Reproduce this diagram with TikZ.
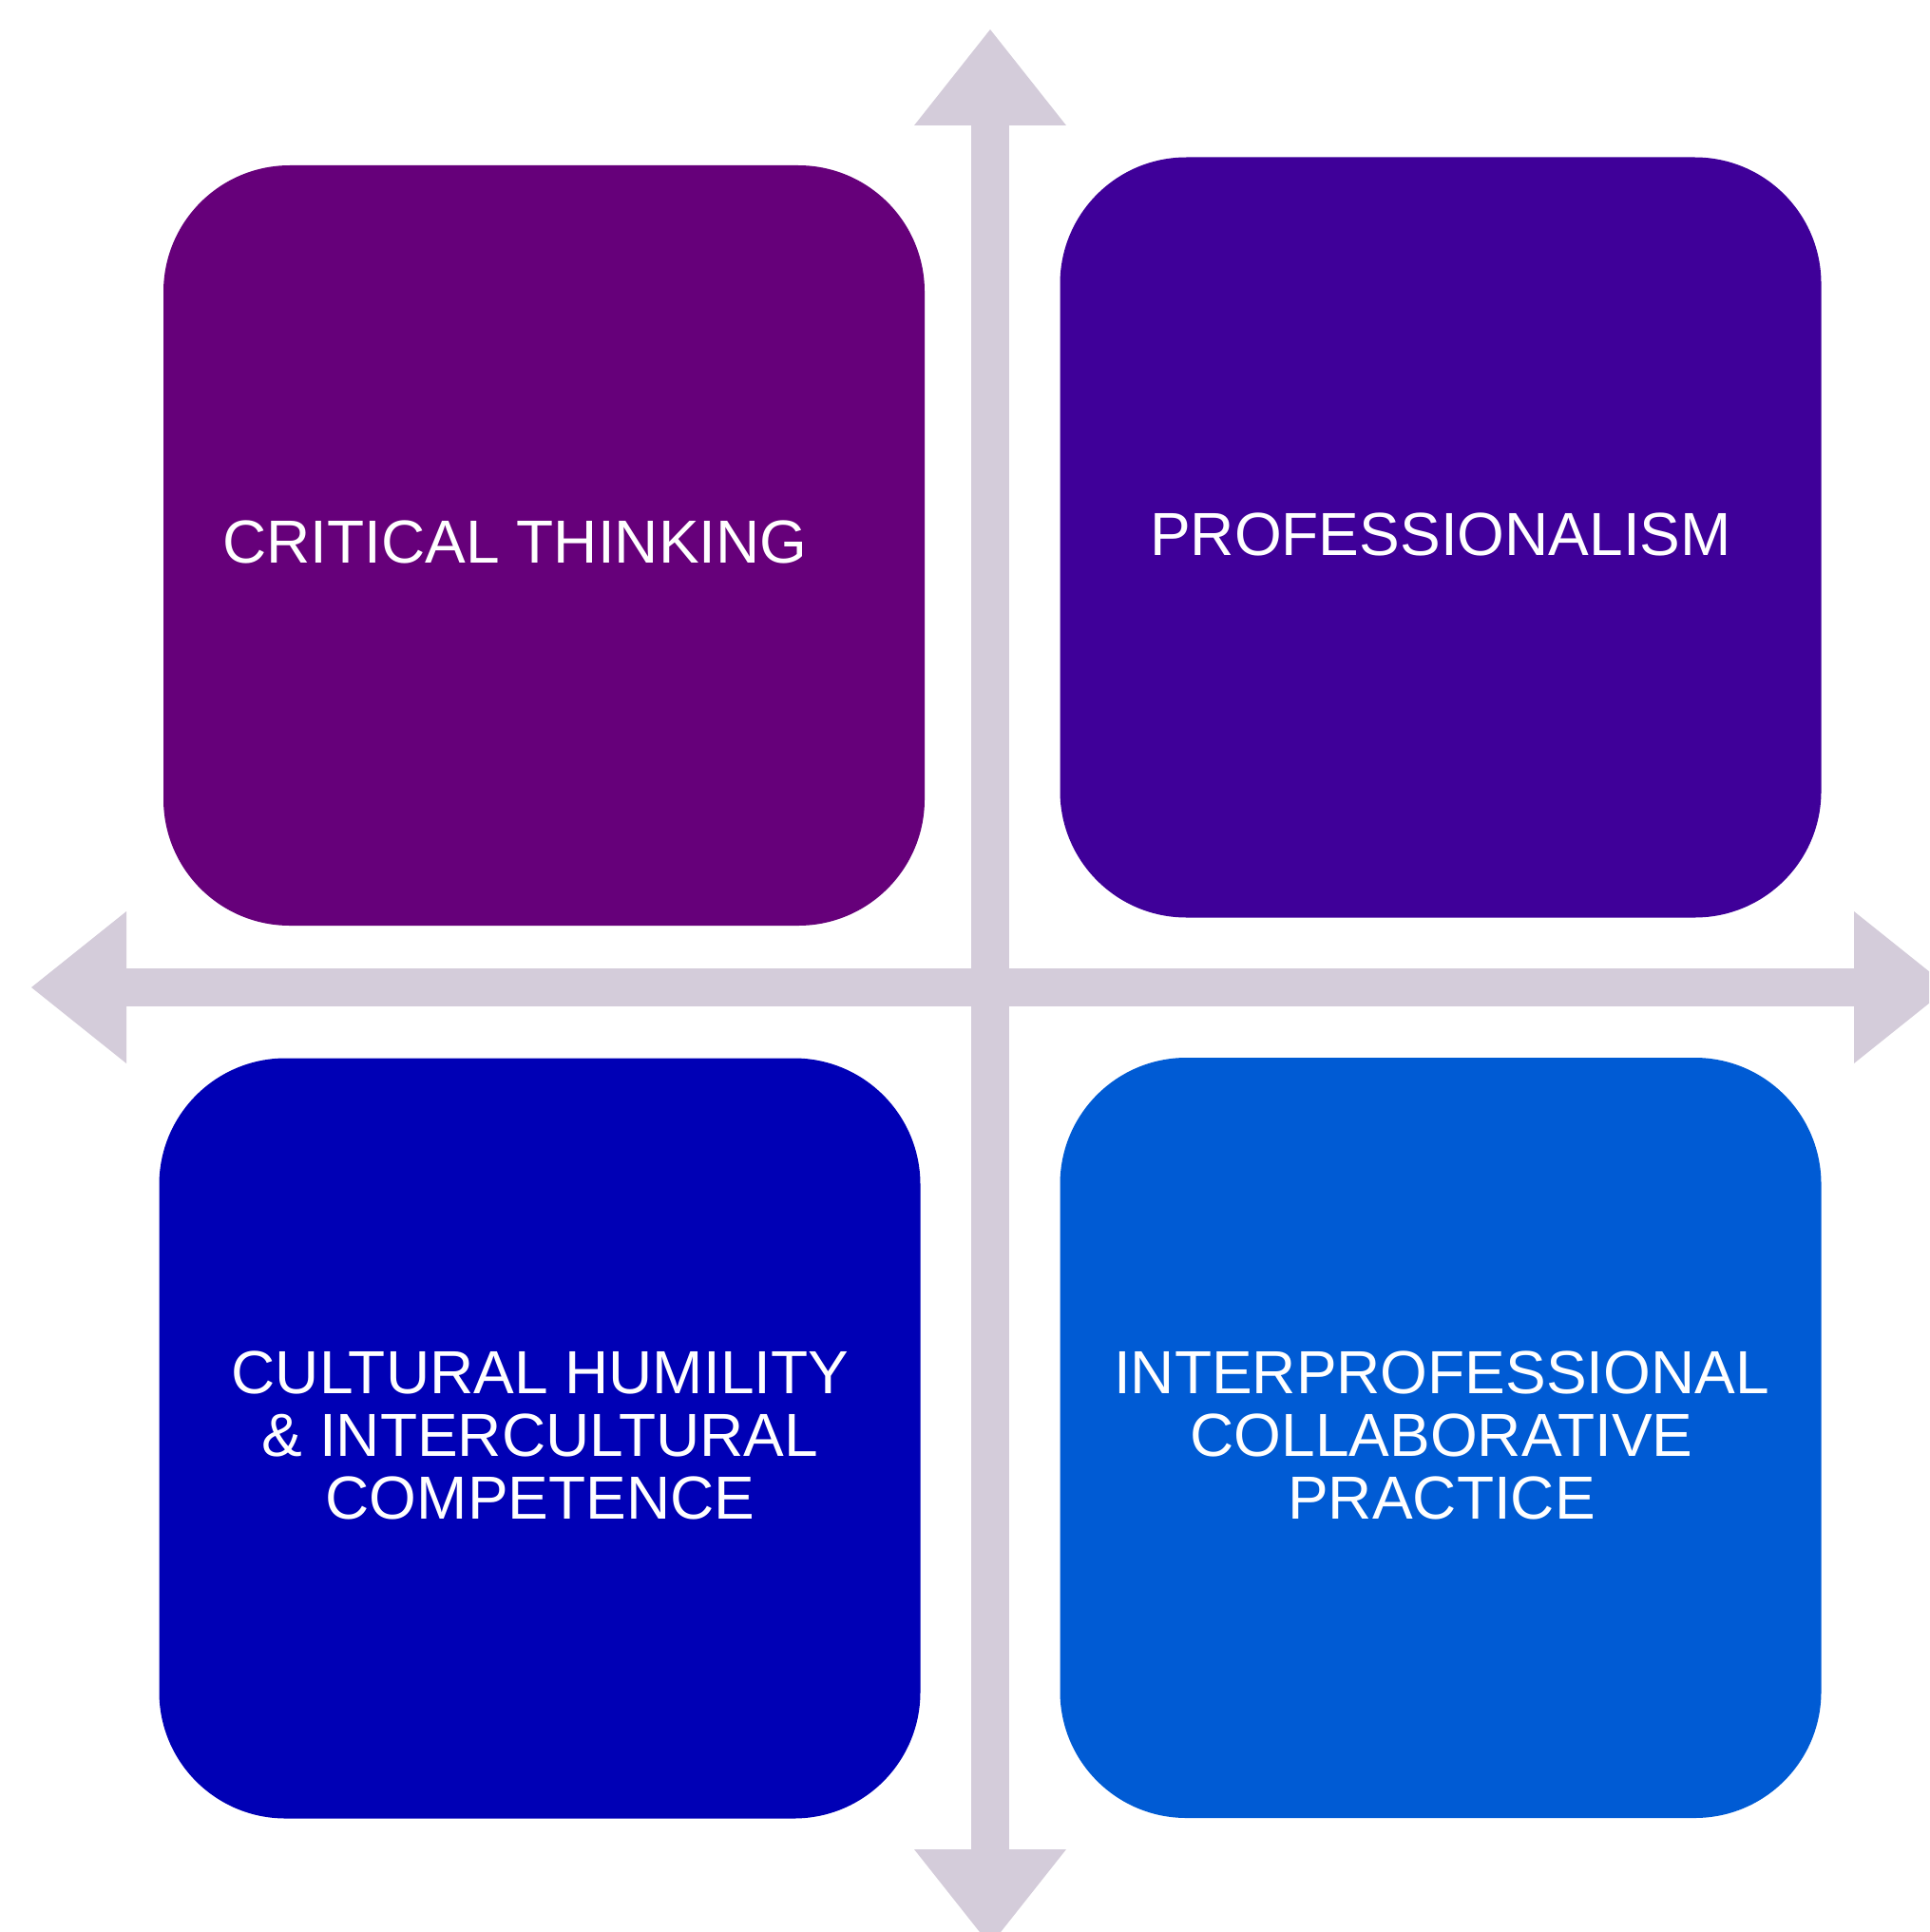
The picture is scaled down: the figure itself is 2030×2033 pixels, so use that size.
\documentclass[tikz,border=0pt]{standalone}
\usepackage{fontspec}
\setmainfont{Liberation Sans}
\definecolor{tlcol}{RGB}{102,0,122}
\definecolor{trcol}{RGB}{63,0,153}
\definecolor{blcol}{RGB}{0,0,181}
\definecolor{brcol}{RGB}{0,91,212}
\definecolor{arrcol}{RGB}{212,204,218}
\begin{document}
\begin{tikzpicture}[x=1pt,y=-1pt,
  quad/.style={draw=none, rounded corners=133pt, minimum width=801pt, minimum height=800pt, inner sep=0pt},
  lbl/.style={text=white, inner sep=0pt, align=center, font=\fontsize{64}{66}\selectfont},
  arr/.style={fill=arrcol, draw=none}]
\useasboundingbox (0,0) rectangle (2030,2033);
\clip (0,0) rectangle (2030,2033);
% axes
\coordinate (c) at (1042,1039);
\fill[arr] (1022,132) rectangle (1062,1946);
\fill[arr] (133,1019) rectangle (1951,1059);
\fill[arr] (1042,31) -- (962,132) -- (1122,132) -- cycle;
\fill[arr] (1042,2047) -- (962,1946) -- (1122,1946) -- cycle;
\fill[arr] (33,1039) -- (133,959) -- (133,1119) -- cycle;
\fill[arr] (2051,1039) -- (1951,959) -- (1951,1119) -- cycle;
% boxes
\node[quad, fill=tlcol] (tl) at (572.5,574) {};
\node[quad, fill=trcol] (tr) at (1516,565.5) {};
\node[quad, fill=blcol] (bl) at (568,1513.5) {};
\node[quad, fill=brcol] (br) at (1516,1513) {};
% labels
\node[lbl, anchor=base] (tlt) at (542,592) {CRITICAL THINKING};
\node[lbl, anchor=base] (trt) at (1516,584) {PROFESSIONALISM};
\node[lbl, anchor=center] (blt) at (568.5,1510) {CULTURAL HUMILITY\\\& INTERCULTURAL\\COMPETENCE};
\node[lbl, anchor=center] (brt) at (1517,1510) {INTERPROFESSIONAL\\COLLABORATIVE\\PRACTICE};
\end{tikzpicture}
\end{document}
